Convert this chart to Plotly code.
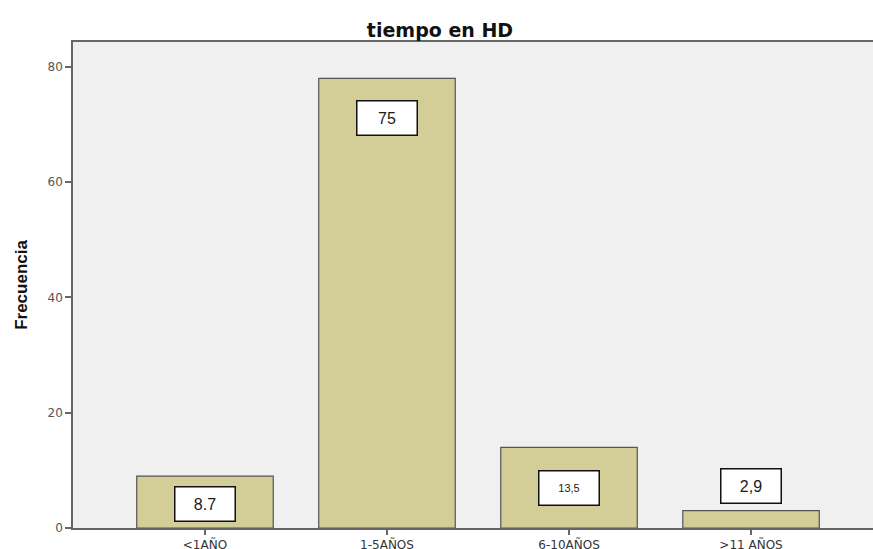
import plotly.graph_objects as go

# Data
categories = ["<1AÑO", "1-5AÑOS", "6-10AÑOS", ">11 AÑOS"]
frecuencia = [9, 78, 14, 3]
box_labels = ["8.7", "75", "13,5", "2,9"]

# label box styling (offset from bar top in px, font size)
box_shift = [-28, -40, -41, 25]
box_font = [16, 16, 11, 16]

bar_color = "#D3CE97"
edge_color = "#555555"

fig = go.Figure()

fig.add_trace(go.Bar(
    x=categories,
    y=frecuencia,
    width=0.75,
    marker=dict(color=bar_color, line=dict(color=edge_color, width=1.2)),
    hoverinfo="x+y",
))

for cat, val, lab, shift, fs in zip(categories, frecuencia, box_labels, box_shift, box_font):
    fig.add_annotation(
        x=cat, y=val, text=lab, showarrow=False,
        yshift=shift,
        font=dict(family="Liberation Sans, Arial, sans-serif", size=fs, color="#1a1a1a"),
        bgcolor="white", bordercolor="#111111", borderwidth=1.5,
        width=57, height=31, borderpad=1,
    )

fig.update_layout(
    title=dict(text="<b>tiempo en HD</b>", x=0.504, xanchor="center",
               y=1 - 30 / 549, yanchor="middle",
               font=dict(family="DejaVu Sans, sans-serif", size=19, color="#111111")),
    width=873, height=549,
    margin=dict(l=73, r=0, t=42, b=21),
    plot_bgcolor="#F0F0F0",
    paper_bgcolor="white",
    showlegend=False,
    font=dict(family="Liberation Sans, Arial, sans-serif", size=12, color="#333333"),
)

fig.update_xaxes(
    range=[-0.725, 3.67],
    automargin=False,
    showline=True, linecolor="#666666", linewidth=1.5, mirror=True,
    ticks="outside", ticklen=5, tickwidth=1.5, tickcolor="#666666",
    showgrid=False, zeroline=False,
    tickfont=dict(family="DejaVu Sans, sans-serif", size=12, color="#333333"),
)

fig.update_yaxes(
    range=[0, 84.3],
    automargin=False,
    tickvals=[0, 20, 40, 60, 80],
    showline=True, linecolor="#666666", linewidth=1.5,
    ticks="outside", ticklen=6, tickwidth=1.5, tickcolor="#666666",
    showgrid=False, zeroline=False,
    tickfont=dict(family="DejaVu Sans, sans-serif", size=12, color="#555555"),
    title=dict(text="<b>Frecuencia</b>", standoff=16,
               font=dict(family="Liberation Sans, Arial, sans-serif", size=17, color="#111111")),
)

# the page body has a default 8px margin; drop it so the figure sits at 0,0
fig.write_html("out.html",
               config={"displayModeBar": False},
               post_script="document.body.style.margin='0';document.body.style.overflow='hidden';")
